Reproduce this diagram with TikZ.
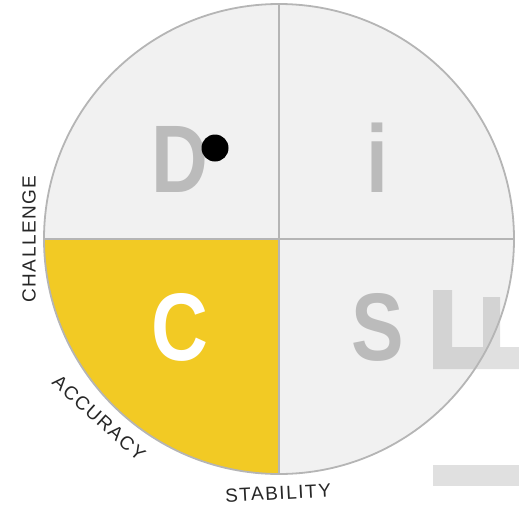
\documentclass[tikz,border=0pt]{standalone}
\usepackage{fontspec}
\setmainfont{Liberation Sans}
\newfontfamily\axisfont[LetterSpace=8]{Liberation Sans}

\definecolor{discgray}{HTML}{F1F1F1}
\definecolor{rimgray}{HTML}{B5B5B5}
\definecolor{lettergray}{HTML}{BBBBBB}
\definecolor{cyellow}{HTML}{F2CA24}

\tikzset{
  letter/.style={font=\fontsize{96}{96}\selectfont\bfseries, text=lettergray, inner sep=0pt, anchor=base, xscale=0.82},
  axislabel/.style={font=\axisfont\fontsize{19}{19}\selectfont, text=black!85, inner sep=0pt},
  rim/.style={draw=rimgray, line width=1.8pt},
  ghost/.style={fill=black, fill opacity=0.12},
}

\begin{document}
\begin{tikzpicture}[x=1pt,y=-1pt]
        \useasboundingbox (0,0) rectangle (519,507);

        % disc and the C quarter
        \coordinate (centre) at (279,239);
        \fill[discgray] (centre) circle[radius=235pt];
        \begin{scope}
        \clip (centre) circle[radius=235pt];
        \fill[cyellow] (44,239) rectangle (279,474);
        \end{scope}

        % faint shapes on the right
        \fill[ghost] (433,290) -- (452,290) -- (452,347) -- (483,347) -- (483,297)
              -- (500,297) -- (500,347) -- (519,347) -- (519,369) -- (433,369) -- cycle;
        \fill[ghost] (433,465) rectangle (519,486);

        % rim and axes
        \coordinate (top) at (279,4);
        \coordinate (bottom) at (279,474);
        \coordinate (left) at (44,239);
        \coordinate (right) at (514,239);
        \draw[rim] (top) -- (bottom);
        \draw[rim] (left) -- (right);
        \draw[rim] (centre) circle[radius=235pt];

        % quarter letters
        \node[letter] (d) at (180,192) {D};
        \node[letter] (i) at (377,192) {i};
        \node[letter, text=white] (c) at (180,360) {C};
        \node[letter] (s) at (378,360) {S};
        \node[circle, fill=black, inner sep=0pt, minimum size=27pt] (dot) at (215,148) {};

        % axis names
        \node[axislabel, rotate=90] (challenge) at (29,239) {CHALLENGE};
        \node[axislabel, rotate=-42] (accuracy) at (99,418) {ACCURACY};
        \node[axislabel, rotate=3] (stability) at (278,493) {STABILITY};
\end{tikzpicture}
\end{document}
